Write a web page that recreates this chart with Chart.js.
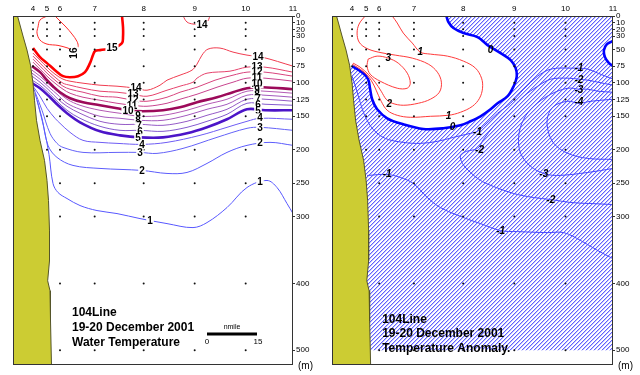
<!DOCTYPE html>
<html>
<head>
<meta charset="utf-8">
<script src="https://cdn.jsdelivr.net/npm/chart.js@4.4.1/dist/chart.umd.min.js"></script>
<style>
  html, body { margin: 0; padding: 0; background: #fff; }
  #wrap { position: relative; width: 640px; height: 375px; }
  canvas { position: absolute; top: 0; }
  #temp { left: 0; }
  #anom { left: 320px; }
</style>
</head>
<body>
<div id="wrap">
  <canvas id="temp" width="320" height="375"></canvas>
  <canvas id="anom" width="320" height="375"></canvas>
</div>
<script>
// x = distance offshore (nmile), y = depth (m)
const stationDist = [6, 10.2, 14.1, 24.5, 39.2, 54.5, 69.8, 84];
const stationNames = ['4', '5', '6', '7', '8', '9', '10', '11'];
const depthTicks = [0, 10, 20, 30, 50, 75, 100, 125, 150, 200, 250, 300, 400, 500];
const fullCast = [0, 10, 20, 30, 50, 75, 100, 125, 150, 200, 250, 300, 400, 500];
const castDepths = [
  [0, 10, 20, 30, 50, 75],
  [0, 10, 20, 30, 50, 75, 100, 125, 150, 200],
  fullCast, fullCast, fullCast, fullCast, fullCast,
  [],
];

const coastline = [[1.35, 0], [2.1, 13.5], [3, 30], [4.2, 51], [5.25, 73.5], [6, 100.5], [6.45, 126], [7.05, 156],
  [8.1, 186], [9.45, 216], [10.2, 246], [10.65, 276], [10.95, 321], [10.95, 366], [10.4, 396], [11.1, 411],
  [11.25, 456], [11.55, 523]];

// water temperature contours (deg C)
const tempC16 = [[10.2, 0], [8.1, 6], [7.5, 16.5], [7.2, 25.5], [8.1, 36], [10.2, 42], [13.5, 44], [16.5, 48],
  [18.3, 52], [19.5, 46], [19.2, 38], [17.7, 27], [15.9, 16.5], [14.1, 7.5], [12.6, 0]];
const tempC15 = [[32.7, 0], [33, 16.5], [33, 31.5], [32.7, 40.5], [30, 48], [26.1, 51], [24.6, 52.5], [24, 58.5],
  [23.1, 70.5], [21.6, 84], [19.5, 90], [17.1, 91.5], [15, 90], [12.6, 81], [10.2, 70.5], [8.1, 61.5], [6, 48]];
const tempC14top = [[51, 0], [52.2, 9], [54, 12], [55.8, 12], [58.2, 9], [59.1, 0]];
const tempC14 = [[6, 55.5], [8.1, 66], [10.2, 76.5], [12.6, 87], [15, 94.5], [17.1, 97.5], [21, 100.5], [26.1, 103.5],
  [31.2, 105], [36.9, 108], [40.2, 111], [44.1, 103.5], [46.2, 96], [50.1, 88.5], [53.7, 81], [55.2, 72],
  [56.7, 58.5], [58.5, 49.5], [62.1, 48], [66, 54], [70.2, 58.5], [74.7, 61.5], [84, 75]];
const tempC13 = [[6, 60], [8.1, 70.5], [10.2, 81], [12.6, 91.5], [15, 100.5], [17.1, 103.5], [21, 108], [26.1, 112.5],
  [31.2, 114], [36, 117], [40.2, 120], [46.2, 111], [50.1, 105], [54, 99], [55.2, 93], [58.2, 85.5], [65.1, 82.5],
  [70.2, 76.5], [75.6, 76.5], [84, 84]];
const tempC12 = [[6, 64.5], [8.1, 75], [10.2, 85.5], [12.6, 96], [15, 105], [17.1, 109.5], [21, 114], [26.1, 120],
  [31.2, 121.5], [36, 126], [40.2, 127.5], [46.2, 121.5], [50.1, 114], [55.2, 106.5], [60.6, 96], [66, 88.5],
  [70.2, 84], [75.6, 84], [84, 90]];
const tempC11 = [[6, 69], [8.1, 79.5], [10.2, 90], [12.6, 100.5], [15, 109.5], [17.1, 115.5], [21, 121.5], [26.1, 126],
  [31.2, 130.5], [36, 133.5], [40.2, 135], [46.2, 130.5], [50.1, 124.5], [55.2, 117], [61.2, 106.5], [66, 99],
  [70.2, 93], [75.6, 93], [84, 97.5]];
const tempC10 = [[5.7, 75], [8.1, 84], [10.2, 96], [12, 105], [14.1, 114], [17.1, 123], [21, 129], [26.1, 133.5],
  [31.2, 138], [34.5, 141], [39, 142.5], [45, 141], [50.1, 136.5], [55.2, 129], [61.2, 121.5], [66, 114],
  [70.2, 108], [75, 106.5], [84, 109.5]];
const tempC9 = [[5.7, 81], [8.1, 90], [11.1, 103.5], [13.2, 112.5], [16.2, 124.5], [20.1, 133.5], [26.1, 141], [32.1, 145.5],
  [38.1, 150], [45, 148.5], [52.2, 141], [58.2, 132], [64.2, 124.5], [70.2, 112.5], [75.6, 112.5], [84, 115.5]];
const tempC8 = [[5.7, 85.5], [8.1, 94.5], [11.1, 108], [13.2, 117], [16.2, 130.5], [20.1, 139.5], [26.1, 150], [32.1, 153],
  [38.1, 156], [45, 156], [52.2, 148.5], [58.2, 139.5], [64.2, 132], [70.2, 118.5], [75.6, 118.5], [84, 121.5]];
const tempC7 = [[5.7, 90], [8.1, 99], [11.1, 112.5], [13.2, 123], [16.2, 135], [20.1, 145.5], [26.1, 157.5], [32.1, 162],
  [38.1, 162], [45, 163.5], [52.2, 157.5], [58.2, 148.5], [64.2, 139.5], [70.2, 124.5], [75.6, 124.5], [84, 127.5]];
const tempC6 = [[5.7, 96], [8.1, 103.5], [11.1, 117], [13.2, 127.5], [16.2, 141], [20.1, 153], [26.1, 165], [32.1, 171],
  [38.1, 171], [45, 172.5], [52.2, 166.5], [58.2, 157.5], [64.2, 147], [70.2, 130.5], [75.6, 132], [84, 133.5]];
const tempC5 = [[5.7, 100.5], [8.1, 108], [11.1, 121.5], [13.2, 132], [16.2, 145.5], [20.1, 159], [26.1, 172.5], [32.1, 178.5],
  [38.1, 181.5], [45, 181.5], [52.2, 175.5], [58.2, 166.5], [64.2, 154.5], [70.2, 139.5], [75.6, 141], [84, 141]];
const tempC4 = [[6, 105], [8.1, 120], [10.2, 138], [12.6, 153], [14.1, 160.5], [17.1, 174], [21, 186], [26.1, 189],
  [31.2, 190.5], [38.7, 192], [46.2, 189], [56.1, 178.5], [64.2, 166.5], [70.2, 157.5], [74.1, 153], [84, 154.5]];
const tempC3 = [[6.3, 109.5], [8.7, 141], [11.1, 175.5], [13.2, 190.5], [15, 196.5], [21, 204], [31.2, 204], [38.1, 204],
  [43.2, 205.5], [51, 198], [61.2, 181.5], [70.2, 168], [74.1, 166.5], [84, 171]];
const tempC2 = [[6.6, 115.5], [8.7, 153], [10.5, 193.5], [13.2, 211.5], [18, 223.5], [26.1, 228], [38.7, 231], [46.2, 235.5],
  [52.2, 234], [58.2, 220.5], [64.2, 204], [70.2, 193.5], [77.1, 189], [84, 193.5]];
const tempC1 = [[7.2, 126], [9.3, 168], [10.8, 207], [12, 250.5], [13.5, 264], [16.2, 273], [20.1, 283.5], [25.2, 291],
  [31.2, 295.5], [38.1, 303], [46.2, 310.5], [54, 316.5], [58.2, 309], [64.2, 286.5], [70.2, 256.5], [76.2, 246],
  [79.2, 256.5], [82.2, 280.5], [84, 295.5]];

const tempLabels = [
  [18.3, 55.5, '16', -90], [29.7, 48, '15'], [56.7, 13.5, '14'],
  [36.9, 108, '14'], [36, 117, '13'], [36, 126, '12'], [35.7, 133.5, '11'], [34.5, 141, '10'], [37.5, 148.5, '9'],
  [37.5, 156, '8'], [37.8, 163.5, '7'], [38.1, 172.5, '6'], [37.5, 181.5, '5'], [38.7, 192, '4'], [38.1, 204, '3'],
  [38.7, 231, '2'], [41.1, 306, '1'],
  [73.5, 61.5, '14'], [73.2, 76.5, '13'], [73.2, 84, '12'], [73.2, 93, '11'], [73.2, 102, '10'], [73.2, 111, '9'],
  [73.2, 118.5, '8'], [73.5, 124.5, '7'], [73.5, 132, '6'], [73.5, 141, '5'], [74.1, 151.5, '4'], [74.1, 166.5, '3'],
  [74.1, 189, '2'], [74.1, 247.5, '1'],
];

// temperature anomaly contours (deg C)
const anomZero = [[34.2, 0], [34.8, 9], [36.3, 18], [39.3, 25.5], [43.5, 31.5], [46.5, 43.5], [50.4, 55.5], [53.4, 66],
  [54.9, 78], [55.2, 91.5], [54.3, 105], [52.5, 120], [49.5, 130.5], [47.4, 139.5], [44.4, 150], [41.4, 157.5],
  [38.4, 163.5], [33.3, 168], [27.3, 169], [21.3, 162], [16.5, 153], [13.5, 139.5], [12, 124.5], [11.4, 109.5],
  [10.8, 94.5], [9.3, 85.5], [6, 75]];
const anomZeroEdge = [[84, 37.5], [82.2, 42], [81.3, 51], [81.6, 61.5], [82.8, 70.5], [84, 75]];
const anomPlus1 = [[18, 0], [19.5, 10.5], [21.3, 25.5], [24, 40.5], [26.4, 54], [29.4, 57], [34.5, 60], [39.3, 67.5],
  [42.9, 78], [44.7, 93], [45, 108], [44.1, 123], [42, 135], [38.4, 144], [34.8, 148.5], [29.4, 150], [23.4, 151.5],
  [19.5, 148.5], [16.5, 141], [14.7, 127.5], [13.2, 111], [11.7, 96], [9.6, 84], [7.5, 76.5], [6, 72]];
const anomPlus2 = [[9.9, 0], [8.1, 12], [7.5, 25.5], [8.1, 39], [10.2, 48], [13.8, 54], [18.9, 58.5], [24, 63],
  [28.8, 72], [31.5, 84], [32.7, 99], [32.1, 114], [29.4, 124.5], [25.8, 130.5], [21.3, 133.5], [18, 130.5],
  [16.2, 124.5], [14.7, 112.5], [12.9, 99], [10.8, 87], [8.4, 76.5], [6.3, 70.5]];
const anomPlus3 = [[10.8, 64.5], [13.5, 60], [16.8, 63], [19.8, 70.5], [22.5, 85.5], [23.4, 100.5], [22.5, 108],
  [19.5, 108], [14.4, 97.5], [11.4, 87], [10.5, 75], [10.8, 64.5]];
const anomMinus1 = [[6, 90], [7.2, 108], [8.4, 129], [9.9, 150], [12.3, 169.5], [15.9, 183], [21.3, 189], [26.4, 190.5],
  [31.5, 187.5], [36.3, 181.5], [41.4, 175.5], [43.5, 172.5], [45.3, 165], [49.5, 145.5], [53.4, 130.5], [57.3, 109.5],
  [61.5, 90], [64.5, 81], [67.5, 78], [71.4, 78], [73.8, 78], [76.5, 79.5], [79.5, 85.5], [84, 94.5]];
const anomMinus2 = [[84, 103.5], [79.5, 99], [76.5, 96], [73.8, 94.5], [70.5, 93], [65.4, 94.5], [61.5, 105], [57.3, 120],
  [54.3, 135], [51.3, 150], [48.3, 165], [45.3, 184.5], [43.5, 198], [40.2, 202.5], [38.4, 208.5], [39, 220.5],
  [41.4, 234], [44.4, 246], [48.3, 255], [54.3, 265.5], [60.3, 271.5], [65.4, 274.5], [71.4, 279], [77.4, 280.5], [84, 282]];
const anomMinus3 = [[84, 114], [79.5, 112.5], [76.5, 109.5], [73.8, 109.5], [70.5, 108], [65.4, 117], [60.3, 135],
  [57.3, 154.5], [55.8, 180], [56.4, 205.5], [59.4, 225], [63.3, 235.5], [67.5, 238.5], [76.5, 234], [84, 228]];
const anomMinus4 = [[84, 124.5], [77.4, 127.5], [73.8, 130.5], [70.5, 127.5], [66.3, 135], [64.5, 150], [64.5, 169.5],
  [66.3, 190.5], [70.5, 205.5], [76.5, 213], [84, 214.5]];
const anomMinus1Deep = [[10.5, 238.5], [16.5, 237], [20.4, 241.5], [24.3, 250.5], [28.5, 271.5], [32.4, 286.5],
  [39.3, 301.5], [44.4, 310.5], [50.4, 321], [55.5, 322.5], [64.5, 324], [69.3, 324], [74.4, 336], [79.5, 351], [84, 363]];

const anomLabels = [
  [26.4, 54, '1'], [34.8, 148.5, '1'], [17.1, 130.5, '2'], [16.8, 63, '3'], [47.4, 51, '0'], [36, 165, '0'],
  [73.8, 78, '-1'], [73.8, 96, '-2'], [73.8, 111, '-3'], [73.8, 129, '-4'], [43.5, 172.5, '-1'], [44.1, 199.5, '-2'],
  [63.3, 235.5, '-3'], [65.4, 274.5, '-2'], [16.5, 235.5, '-1'], [50.4, 321, '-1'],
];

const scaleBar = [[58.2, 475.5], [73.2, 475.5]];

const FONT = 'Arial, "Liberation Sans", sans-serif';
Chart.defaults.font.family = FONT;

const pts = (arr) => arr.map(([x, y]) => ({ x, y }));

function contour(data, color, width) {
  return { data: pts(data), borderColor: color, borderWidth: width, fill: false, tension: 0.35, pointRadius: 0, order: 50 };
}

function area(data, fillColor, order, edge) {
  return {
    data: pts(data), backgroundColor: fillColor, borderColor: edge || 'rgba(0,0,0,0)', borderWidth: edge ? 1 : 0,
    fill: 'shape', tension: 0, pointRadius: 0, order,
  };
}

function castDots() {
  const data = [];
  stationDist.forEach((x, i) => castDepths[i].forEach((y) => data.push({ x, y })));
  return { data, showLine: false, pointRadius: 1, pointBackgroundColor: '#111', pointBorderWidth: 0, order: 1 };
}

function coast() {
  return area([...coastline, [0, 523], [0, 0]], '#cccc33', 10, '#55552a');
}

function hatchPattern(ctx) {
  const tile = document.createElement('canvas');
  tile.width = 4;
  tile.height = 4;
  const g = tile.getContext('2d');
  for (let i = 0; i < 4; i++) {
    g.fillStyle = '#6060ff';
    g.fillRect(i, 3 - i, 1, 1);
    g.fillStyle = '#c4c4ff';
    g.fillRect((i + 1) % 4, 3 - i, 1, 1);
  }
  return ctx.createPattern(tile, 'repeat');
}

function makeOverlay(cfg) {
  return {
    id: 'overlay',
    afterDatasetsDraw(chart) {
      const { ctx, chartArea: a } = chart;
      const x = chart.scales.x;
      const y = chart.scales.y;
      ctx.save();
      ctx.textAlign = 'center';
      ctx.textBaseline = 'middle';
      ctx.font = cfg.labelFont;
      for (const [lx, ly, text, angle] of cfg.labels) {
        ctx.save();
        ctx.translate(x.getPixelForValue(lx), y.getPixelForValue(ly));
        if (angle) ctx.rotate((angle * Math.PI) / 180);
        if (cfg.labelBg) {
          const w = ctx.measureText(text).width;
          ctx.fillStyle = '#fff';
          ctx.fillRect(-w / 2 - 1, -4, w + 2, 8);
        }
        ctx.fillStyle = '#000';
        ctx.fillText(text, 0, 0.5);
        ctx.restore();
      }

      ctx.textAlign = 'left';
      ctx.font = 'bold 12px ' + FONT;
      ctx.fillStyle = '#000';
      cfg.title.forEach((line, i) => {
        ctx.fillText(line, x.getPixelForValue(cfg.titleX), y.getPixelForValue(cfg.titleDepths[i]));
      });

      if (cfg.scaleText) {
        ctx.textAlign = 'center';
        ctx.font = '7px ' + FONT;
        ctx.fillText('nmile', x.getPixelForValue(65.7), y.getPixelForValue(465));
        ctx.font = '8px ' + FONT;
        ctx.fillText('0', x.getPixelForValue(58.2), y.getPixelForValue(487.5));
        ctx.fillText('15', x.getPixelForValue(73.5), y.getPixelForValue(487.5));
      }

      ctx.strokeStyle = '#333';
      ctx.lineWidth = 1;
      ctx.strokeRect(Math.round(a.left) + 0.5, Math.round(a.top) + 0.5,
        Math.round(a.right - a.left) - 1, Math.round(a.bottom - a.top) - 1);

      // station names above the frame
      ctx.textAlign = 'center';
      ctx.font = '8px ' + FONT;
      stationDist.forEach((d, i) => ctx.fillText(stationNames[i], x.getPixelForValue(d), a.top - 7));

      ctx.textAlign = 'left';
      ctx.font = '10px ' + FONT;
      ctx.fillText('(m)', a.right + 5, a.bottom + 1);
      ctx.restore();
    },
  };
}

function makeChart(id, padLeft, datasets, overlay) {
  return new Chart(document.getElementById(id), {
    type: 'line',
    data: { datasets },
    options: {
      responsive: false,
      animation: false,
      devicePixelRatio: 1,
      events: [],
      layout: { padding: { left: padLeft, right: 0, top: 0, bottom: 10 } },
      plugins: { legend: { display: false }, tooltip: { enabled: false } },
      elements: { point: { radius: 0 } },
      scales: {
        x: {
          type: 'linear',
          position: 'top',
          min: 0,
          max: 84,
          afterBuildTicks: (axis) => { axis.ticks = stationDist.map((value) => ({ value })); },
          afterFit: (axis) => { axis.height = 16; },
          ticks: { display: false },
          grid: { display: false },
          border: { display: false },
        },
        y: {
          type: 'linear',
          position: 'right',
          reverse: true,
          min: 0,
          max: 522,
          afterBuildTicks: (axis) => { axis.ticks = depthTicks.map((value) => ({ value })); },
          afterFit: (axis) => { axis.width = 27; },
          ticks: {
            callback: (value) => String(value),
            font: { size: 8 },
            color: '#000',
            padding: 1,
            autoSkip: false,
          },
          grid: { display: true, drawOnChartArea: false, drawTicks: true, tickLength: 2, color: '#333' },
          border: { display: false },
        },
      },
    },
    plugins: [overlay],
  });
}

// left panel: water temperature
const thin = 1;
const thick = 2.6;
makeChart('temp', 13, [
  contour(tempC16, '#ff2a2a', thin),
  contour(tempC15, '#ff0000', thick),
  contour(tempC14top, '#f03c50', thin),
  contour(tempC14, '#f03c50', thin),
  contour(tempC13, '#e6426c', thin),
  contour(tempC12, '#d8447e', thin),
  contour(tempC11, '#c8448e', thin),
  contour(tempC10, '#9c0a5a', thick),
  contour(tempC9, '#b45ab4', thin),
  contour(tempC8, '#a45abe', thin),
  contour(tempC7, '#945ac6', thin),
  contour(tempC6, '#845ace', thin),
  contour(tempC5, '#4c14c8', thick),
  contour(tempC4, '#6e5cf4', thin),
  contour(tempC3, '#6462f8', thin),
  contour(tempC2, '#5c5cfc', thin),
  contour(tempC1, '#5858ff', thin),
  { ...contour(scaleBar, '#000', 3), tension: 0, order: 5 },
  coast(),
  castDots(),
], makeOverlay({
  labels: tempLabels,
  labelFont: 'bold 10px ' + FONT,
  labelBg: true,
  title: ['104Line', '19-20 December 2001', 'Water Temperature'],
  titleX: 17.7,
  titleDepths: [444, 466.5, 489],
  scaleText: true,
}));

// right panel: temperature anomaly
const anomCtx = document.getElementById('anom').getContext('2d');
const hatch = hatchPattern(anomCtx);
const posColor = '#ff3b3b';
const negColor = '#4646ff';
makeChart('anom', 12, [
  area([[0, 0], [84, 0], [84, 500], [0, 500]], hatch, 100),
  area([...anomZero, [0, 75], [0, 0]], '#fff', 90),
  area(anomZeroEdge, '#fff', 90),
  contour(anomPlus1, posColor, thin),
  contour(anomPlus2, posColor, thin),
  contour(anomPlus3, posColor, thin),
  contour(anomZero, '#0000ff', thick),
  contour(anomZeroEdge, '#0000ff', thick),
  contour(anomMinus1, negColor, thin),
  contour(anomMinus2, negColor, thin),
  contour(anomMinus3, negColor, thin),
  contour(anomMinus4, negColor, thin),
  contour(anomMinus1Deep, negColor, thin),
  coast(),
  castDots(),
], makeOverlay({
  labels: anomLabels,
  labelFont: 'italic bold 10px ' + FONT,
  labelBg: false,
  title: ['104Line', '19-20 December 2001', 'Temperature Anomaly.'],
  titleX: 15,
  titleDepths: [454.5, 475.5, 498],
  scaleText: false,
}));
</script>
</body>
</html>
